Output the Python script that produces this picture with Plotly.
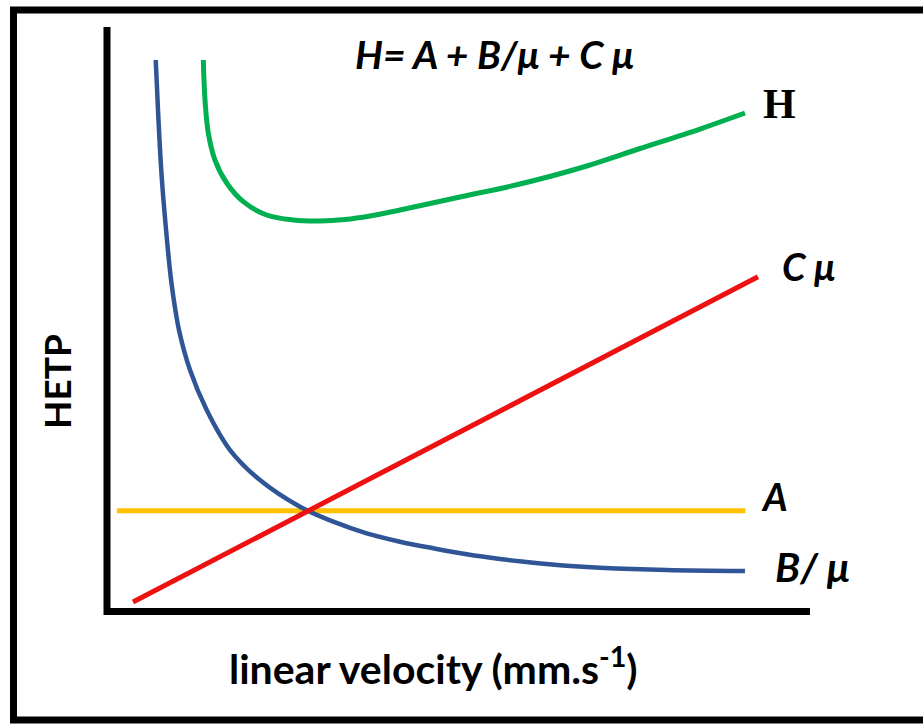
import plotly.graph_objects as go

# Conceptual van Deemter plot (arbitrary units)
# x: linear velocity, y: HETP
a_x = [0.14, 9.08]
a_y = [1.73, 1.73]

c_x = [0.37, 9.26]
c_y = [0.17, 5.73]

b_x = [0.693, 0.730, 0.778, 0.849, 0.917, 1.024, 1.181, 1.418, 1.750, 2.176, 2.745,
       3.219, 3.694, 4.168, 4.641, 5.117, 5.590, 6.064, 6.539, 7.013, 7.962, 9.075]
b_y = [9.436, 8.467, 7.441, 6.415, 5.624, 4.821, 4.137, 3.453, 2.769, 2.256, 1.800,
       1.544, 1.345, 1.202, 1.089, 0.986, 0.906, 0.843, 0.791, 0.757, 0.718, 0.701]

h_x = [1.370, 1.394, 1.441, 1.536, 1.703, 1.939, 2.272, 2.650, 3.030, 3.385, 3.741,
       4.168, 5.021, 5.875, 6.728, 7.582, 8.435, 9.075]
h_y = [9.436, 8.752, 8.188, 7.726, 7.333, 7.014, 6.786, 6.701, 6.684, 6.709, 6.769,
       6.872, 7.094, 7.316, 7.590, 7.923, 8.256, 8.530]

FONT = "Lato"

fig = go.Figure()
fig.add_trace(go.Scatter(x=a_x, y=a_y, mode="lines", line=dict(color="#FFC000", width=5), name="A"))
fig.add_trace(go.Scatter(x=b_x, y=b_y, mode="lines",
                         line=dict(color="#2F5597", width=4.5, shape="spline", smoothing=1), name="B/μ"))
fig.add_trace(go.Scatter(x=c_x, y=c_y, mode="lines", line=dict(color="#EE1111", width=5), name="Cμ"))
fig.add_trace(go.Scatter(x=h_x, y=h_y, mode="lines",
                         line=dict(color="#00B050", width=5, shape="spline", smoothing=1), name="H"))

W, H = 923, 724
L, R, T, B = 107, 810, 27, 612

def px(xp):
    return (xp - L) / (R - L)

def py(yp):
    return (B - yp) / (B - T)

shapes = [
    # outer frame (right edge cropped off in the reference)
    dict(type="rect", xref="paper", yref="paper", x0=px(13.5), x1=px(960), y0=py(720), y1=py(10),
         line=dict(color="black", width=7), layer="above"),
    # axes
    dict(type="line", xref="paper", yref="paper", x0=0, x1=0, y0=py(615), y1=1,
         line=dict(color="black", width=7)),
    dict(type="line", xref="paper", yref="paper", x0=px(104), x1=1, y0=py(611.5), y1=py(611.5),
         line=dict(color="black", width=7)),
]

annotations = [
    dict(text="<b><i>H= A + B/μ + C μ</i></b>", x=px(494), y=py(54), xref="paper", yref="paper",
         showarrow=False, font=dict(family=FONT, size=39, color="black"), xanchor="center", yanchor="middle"),
    dict(text="<b>H</b>", x=px(779), y=py(104), xref="paper", yref="paper",
         showarrow=False, font=dict(family="Liberation Serif", size=42, color="black"), xanchor="center", yanchor="middle"),
    dict(text="<b><i>C μ</i></b>", x=px(780), y=py(266), xref="paper", yref="paper",
         showarrow=False, font=dict(family=FONT, size=38, color="black"), xanchor="left", yanchor="middle"),
    dict(text="<b><i>A</i></b>", x=px(759), y=py(496), xref="paper", yref="paper",
         showarrow=False, font=dict(family=FONT, size=38, color="black"), xanchor="left", yanchor="middle"),
    dict(text="<b><i>B/ μ</i></b>", x=px(773), y=py(566), xref="paper", yref="paper",
         showarrow=False, font=dict(family=FONT, size=41, color="black"), xanchor="left", yanchor="middle"),
    dict(text="<b>linear velocity (mm.s<sup>-1</sup>)</b>", x=px(433), y=py(666), xref="paper", yref="paper",
         showarrow=False, font=dict(family=FONT, size=41, color="black"), xanchor="center", yanchor="middle"),
    dict(text="<b>HETP</b>", x=px(56), y=py(382), xref="paper", yref="paper", textangle=-90,
         showarrow=False, font=dict(family=FONT, size=37, color="black"), xanchor="center", yanchor="middle"),
]

fig.update_layout(
    width=W, height=H,
    margin=dict(l=L, r=W - R, t=T, b=H - B, pad=0),
    paper_bgcolor="white", plot_bgcolor="white",
    showlegend=False,
    xaxis=dict(range=[0, 10], showgrid=False, zeroline=False, showticklabels=False, ticks="", showline=False),
    yaxis=dict(range=[0, 10], showgrid=False, zeroline=False, showticklabels=False, ticks="", showline=False),
    shapes=shapes,
    annotations=annotations,
)

fig.write_html("out.html",
               config={"displayModeBar": False},
               post_script="document.body.style.margin='0';document.body.style.overflow='hidden';")
